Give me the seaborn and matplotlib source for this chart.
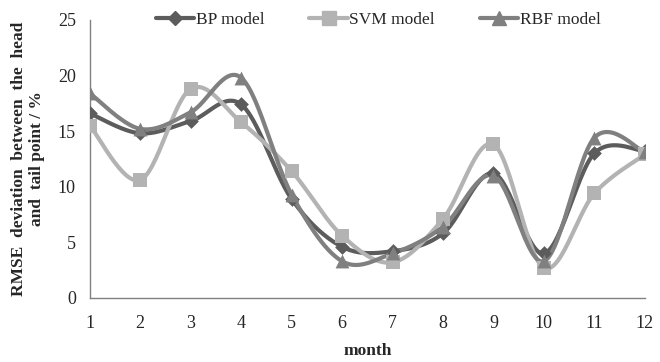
import numpy as np
import pandas as pd
import matplotlib
matplotlib.use("Agg")
import matplotlib.pyplot as plt
import seaborn as sns
from matplotlib.lines import Line2D

months = list(range(1, 13))
bp_model = [16.6, 14.8, 15.9, 17.4, 8.9, 4.6, 4.2, 5.8, 11.2, 4.0, 13.0, 13.2]
svm_model = [15.5, 10.6, 18.8, 15.8, 11.4, 5.6, 3.2, 7.1, 13.8, 2.7, 9.4, 12.9]
rbf_model = [18.4, 15.2, 16.7, 19.8, 9.3, 3.3, 4.0, 6.4, 11.0, 3.3, 14.4, 13.1]

series = {"BP model": bp_model, "SVM model": svm_model, "RBF model": rbf_model}
colors = {"BP model": "#5c5c5c", "SVM model": "#b3b3b3", "RBF model": "#808080"}
markers = {"BP model": "D", "SVM model": "s", "RBF model": "^"}
msizes = {"BP model": 7.5, "SVM model": 9.5, "RBF model": 10}


def smooth(x, y, n=30):
    # Catmull-Rom style smoothing like the spreadsheet "smoothed line"
    x = np.asarray(x, float)
    y = np.asarray(y, float)
    px = np.concatenate([[x[0]], x, [x[-1]]])
    py = np.concatenate([[y[0]], y, [y[-1]]])
    xs, ys = [], []
    t = np.linspace(0, 1, n)
    for i in range(1, len(px) - 2):
        p0, p1, p2, p3 = (np.array([px[j], py[j]]) for j in (i - 1, i, i + 1, i + 2))
        c1 = p1 + (p2 - p0) / 6
        c2 = p2 - (p3 - p1) / 6
        b = ((1 - t) ** 3)[:, None] * p1 + (3 * (1 - t) ** 2 * t)[:, None] * c1 \
            + (3 * (1 - t) * t ** 2)[:, None] * c2 + (t ** 3)[:, None] * p2
        xs.append(b[:, 0])
        ys.append(b[:, 1])
    return np.concatenate(xs), np.concatenate(ys)


sns.set_style("white")
plt.rcParams["font.family"] = ["Liberation Serif", "DejaVu Serif"]

fig = plt.figure(figsize=(6.6, 3.62), dpi=100)
ax = fig.add_axes([0.136, 0.177, 0.841, 0.768])

handles = []
for name, vals in series.items():
    sx, sy = smooth(months, vals)
    ax.plot(sx, sy, color=colors[name], lw=3, zorder=2)
    df = pd.DataFrame({"month": months, "value": vals})
    sns.scatterplot(data=df, x="month", y="value", ax=ax, marker=markers[name],
                    color=colors[name], s=msizes[name] ** 2, edgecolor=colors[name],
                    linewidth=0, zorder=3, legend=False)
    handles.append(Line2D([], [], color=colors[name], lw=3, marker=markers[name],
                          markersize=msizes[name], label=name))

ax.set_xlim(1, 12)
ax.set_ylim(0, 25)
ax.set_xticks(months)
ax.set_yticks([0, 5, 10, 15, 20, 25])
for s in ["top", "right"]:
    ax.spines[s].set_visible(False)
for s in ["left", "bottom"]:
    ax.spines[s].set_color("#808080")
    ax.spines[s].set_linewidth(1)
ax.tick_params(axis="x", direction="in", length=4, color="#808080", labelsize=13, pad=12)
ax.tick_params(axis="y", direction="out", length=3, color="#808080", labelsize=13, pad=7)
ax.set_xlabel("month", fontsize=12.5, fontweight="bold", labelpad=8)
ax.set_ylabel("RMSE  deviation  between  the  head\nand  tail point / %", fontsize=12.5,
              fontweight="bold", labelpad=9)

leg = ax.legend(handles=handles, loc="upper center", bbox_to_anchor=(0.52, 1.085), ncol=3,
                frameon=False, fontsize=12.5, handlelength=2.2, handletextpad=0.1,
                columnspacing=2.6)

fig.savefig("out.png", dpi=100)
